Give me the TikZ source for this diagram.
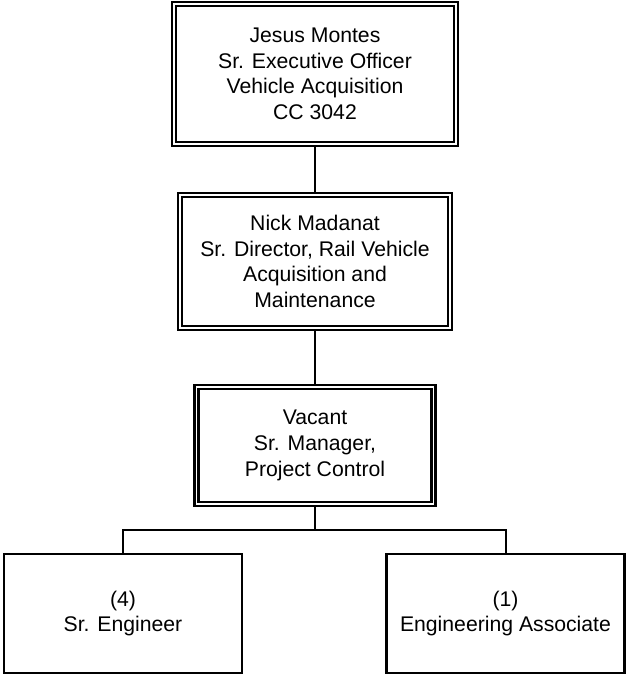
\documentclass[tikz,border=0pt]{standalone}
\usepackage{fontspec}
\setmainfont{Liberation Sans}

\begin{document}
\begin{tikzpicture}[x=1pt, y=-1pt, every node/.style={font=\fontsize{21.2}{25.6}\selectfont, align=center, inner sep=0pt},
	post/.style={draw, double, line width=2.3pt, double distance=1.9pt},
	staff/.style={draw, line width=2.5pt, minimum width=238pt, minimum height=119pt},
	link/.style={line width=2pt}]
	\useasboundingbox (0,0) rectangle (625,675);
	\node[post, minimum width=282pt, minimum height=140pt] (ceo) at (315,74) {Jesus Montes\\Sr. Executive Officer\\Vehicle Acquisition\\CC 3042};
	\node[post, minimum width=270pt, minimum height=133pt] (dir) at (315,261.5) {Nick Madanat\\Sr. Director, Rail Vehicle\\Acquisition and\\Maintenance};
	\node[post, minimum width=237pt, minimum height=117pt] (mgr) at (315,445.5) {Vacant\\Sr. Manager,\\Project Control};
	\node[staff] (sreng) at (123,613.5) {(4)\\Sr. Engineer};
	\node[staff] (engassoc) at (505.5,613.5) {(1)\\Engineering Associate};
	\coordinate (split) at (315,530);
	\draw[link] (ceo) -- (dir);
	\draw[link] (dir) -- (mgr);
	\draw[link] (mgr) -- (split);
	\draw[link] (sreng.north) |- (split) -| (engassoc.north);
\end{tikzpicture}
\end{document}
